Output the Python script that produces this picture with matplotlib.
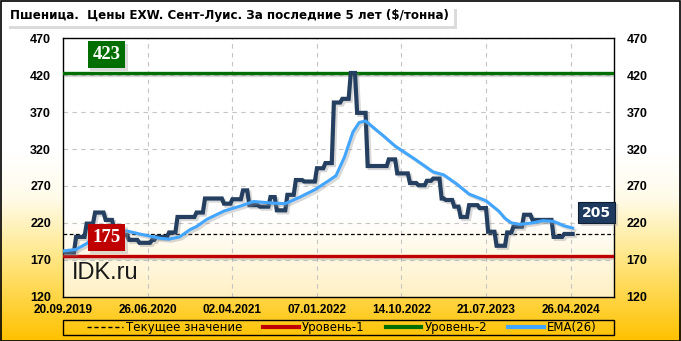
import numpy as np
import pandas as pd
import matplotlib
matplotlib.use("Agg")
import matplotlib.pyplot as plt
import matplotlib.dates as mdates
import matplotlib.patheffects as pe
import matplotlib.transforms as mtransforms
from matplotlib.colors import LinearSegmentedColormap
from matplotlib.lines import Line2D
from matplotlib.patches import Rectangle

# weekly price (value, number of weeks)
step_values = [180, 201, 219, 234, 224, 212, 204, 197, 193, 197, 201, 207,
               228, 234, 253, 246, 252, 264, 244, 242, 255, 237, 258, 278,
               276, 294, 301, 383, 388, 423, 369, 297, 306, 287, 274, 271,
               277, 280, 253, 251, 242, 228, 244, 240, 208, 189, 207, 215,
               231, 224, 201, 205]
step_weeks = [6, 5, 4, 5, 4, 3, 4, 5, 6, 2, 6, 4,
              9, 4, 9, 4, 5, 3, 5, 5, 3, 5, 4, 4,
              6, 4, 4, 4, 4, 3, 5, 10, 4, 6, 4, 4,
              3, 4, 2, 4, 3, 4, 5, 4, 4, 5, 3, 5,
              4, 10, 5, 5]

# EMA(26) read at sample weeks
ema_weeks = [0, 6, 11, 17, 23, 30, 36, 46, 50, 55, 60, 63, 68, 76, 84, 90,
             98, 105, 112, 119, 126, 129, 133, 137, 140, 143, 148, 151, 157,
             166, 175, 180, 186, 192, 200, 206, 209, 212, 216, 222, 227, 232,
             237, 241]
ema_values = [182, 184, 192, 206, 211, 209, 205, 199, 198, 201, 211, 215, 225,
              236, 243, 249, 247, 246, 255, 265, 278, 284, 309, 343, 356, 358,
              346, 339, 324, 307, 289, 285, 273, 259, 250, 236, 226, 220, 218,
              220, 223, 222, 216, 213]

start = pd.Timestamp("2019-09-20")
level1 = 175
level2 = 423
current = 205
tick_dates = pd.date_range(start, periods=7, freq="280D")

prices = np.repeat(step_values, step_weeks)
dates = pd.date_range(start, periods=len(prices), freq="7D")
ema_dates = start + pd.to_timedelta(np.array(ema_weeks) * 7, unit="D")

price_color = "#243F60"
ema_color = "#42A5FF"
red = "#C00000"
green = "#006E00"

W, H = 681, 341
fig = plt.figure(figsize=(W / 100, H / 100), dpi=100)

# figure background: white fading to gold at the bottom
bg = fig.add_axes([0, 0, 1, 1], zorder=-10)
bg_cmap = LinearSegmentedColormap.from_list(
    "bg", [(0, "#FFC200"), (0.25, "#FFE88A"), (0.42, "#FFFBEA"), (0.55, "#FFFFFF"), (1, "#FFFFFF")])
bg.imshow(np.linspace(0, 1, 256).reshape(-1, 1), cmap=bg_cmap, aspect="auto",
          extent=[0, 1, 0, 1], origin="lower")
bg.axis("off")
fig.patches.append(Rectangle((0.5 / W, 0.5 / H), 679.5 / W, 339.5 / H,
                             transform=fig.transFigure, fill=False,
                             edgecolor="black", lw=1.2))

patch_shadow = [pe.SimplePatchShadow(offset=(2, -2), shadow_rgbFace="#9A9A9A", alpha=0.35), pe.Normal()]

# title box
title_box = Rectangle((6.5 / W, 1 - 26 / H), 447.5 / W, 20 / H, transform=fig.transFigure,
                      fc="white", ec="none", zorder=2)
title_box.set_path_effects(patch_shadow)
fig.patches.append(title_box)
fig.text(10 / W, 1 - 16 / H, "Пшеница.  Цены EXW. Сент-Луис. За последние 5 лет ($/тонна)",
         fontsize=8.6, fontweight="bold", family="DejaVu Sans", va="center", ha="left", zorder=3)

ax = fig.add_axes([63.4 / W, 1 - 296.7 / H, 550.6 / W, 258.4 / H])
pa_cmap = LinearSegmentedColormap.from_list(
    "pa", [(0, "#FFF0C4"), (0.3, "#FFFFFF"), (1, "#FFFFFF")])
ax.imshow(np.linspace(0, 1, 256).reshape(-1, 1), cmap=pa_cmap, aspect="auto",
          extent=[0, 1, 0, 1], origin="lower", transform=ax.transAxes, zorder=0)

xmin = mdates.date2num(start)
xmax = xmin + 1824
ax.set_xlim(xmin, xmax)
ax.set_ylim(120, 470)
ax.set_yticks(range(120, 471, 50))
ax.set_xticks(mdates.date2num(tick_dates))
ax.xaxis.set_major_formatter(mdates.DateFormatter("%d.%m.%Y"))
ax.grid(True, color="#C4C4C4", linestyle=(0, (4, 4)), lw=0.8, zorder=1)
ax.tick_params(length=0, labelright=True, colors="black")
ax.tick_params(axis="y", pad=9, labelsize=9)
ax.tick_params(axis="x", pad=5, labelsize=8.5)
for lab in ax.get_xticklabels() + ax.get_yticklabels():
    lab.set_fontfamily("Liberation Sans")
    lab.set_fontweight("bold")
for tick in ax.yaxis.get_major_ticks():
    tick.label2.set_fontfamily("Liberation Sans")
    tick.label2.set_fontweight("bold")
for s in ax.spines.values():
    s.set_color("black")
    s.set_linewidth(1)

shadow = [pe.SimpleLineShadow(offset=(1.5, -1.5), shadow_color="#909090", alpha=0.35), pe.Normal()]

ax.axhline(level1, color=red, lw=2.4, zorder=3, path_effects=shadow)
ax.axhline(level2, color=green, lw=2.4, zorder=3, path_effects=shadow)
ax.axhline(current, color="black", lw=0.9, ls=(0, (3, 2)), zorder=3)

ax.plot(dates, prices, color=price_color, lw=3, zorder=5,
        solid_joinstyle="miter", path_effects=shadow)
ax.plot(ema_dates, ema_values, color=ema_color, lw=2.2, zorder=6, path_effects=shadow)

blend = mtransforms.blended_transform_factory(ax.transAxes, ax.transData)
t1 = ax.text(0.078, 448, str(level2), transform=blend,
             ha="center", va="center", color="white", fontsize=13.5, fontweight="bold",
             family="Liberation Serif", zorder=8,
             bbox=dict(boxstyle="square,pad=0.25", fc=green, ec="none"))
t2 = ax.text(0.078, 200, str(level1), transform=blend,
             ha="center", va="center", color="white", fontsize=13.5, fontweight="bold",
             family="Liberation Serif", zorder=8,
             bbox=dict(boxstyle="square,pad=0.25", fc=red, ec="none"))
t3 = ax.text(0.9685, 234, str(current), transform=blend,
             ha="center", va="center", color="white", fontsize=10, fontweight="bold",
             family="DejaVu Sans", zorder=8,
             bbox=dict(boxstyle="square,pad=0.28", fc="#1F3A5F", ec="#0E1E33", lw=0.8))
for t in (t1, t2, t3):
    t.get_bbox_patch().set_path_effects(patch_shadow)

ax.text(0.015, 0.09, "IDK.ru", transform=ax.transAxes, fontsize=17,
        family="Liberation Sans", color="#1A1A1A", va="center", zorder=8)

# legend: frame across the plot width, entries spread inside it
fig.patches.append(Rectangle((63.4 / W, 1 - 335 / H), 550.6 / W, 15 / H,
                             transform=fig.transFigure, fill=False,
                             edgecolor="black", lw=1))
handles = [
    Line2D([], [], color="black", lw=1, ls=(0, (3, 2))),
    Line2D([], [], color=red, lw=3),
    Line2D([], [], color=green, lw=3),
    Line2D([], [], color=ema_color, lw=3),
]
labels = ["Текущее значение", "Уровень-1", "Уровень-2", "EMA(26)"]
leg = fig.legend(handles, labels, ncol=4, loc="center",
                 bbox_to_anchor=(86 / W, 1 - 335 / H, 512 / W, 15 / H),
                 mode="expand", frameon=False,
                 prop={"family": "DejaVu Sans", "size": 8.5},
                 handlelength=3.0, handletextpad=0.3, borderpad=0.1,
                 borderaxespad=0)

fig.savefig("out.png", dpi=100)
